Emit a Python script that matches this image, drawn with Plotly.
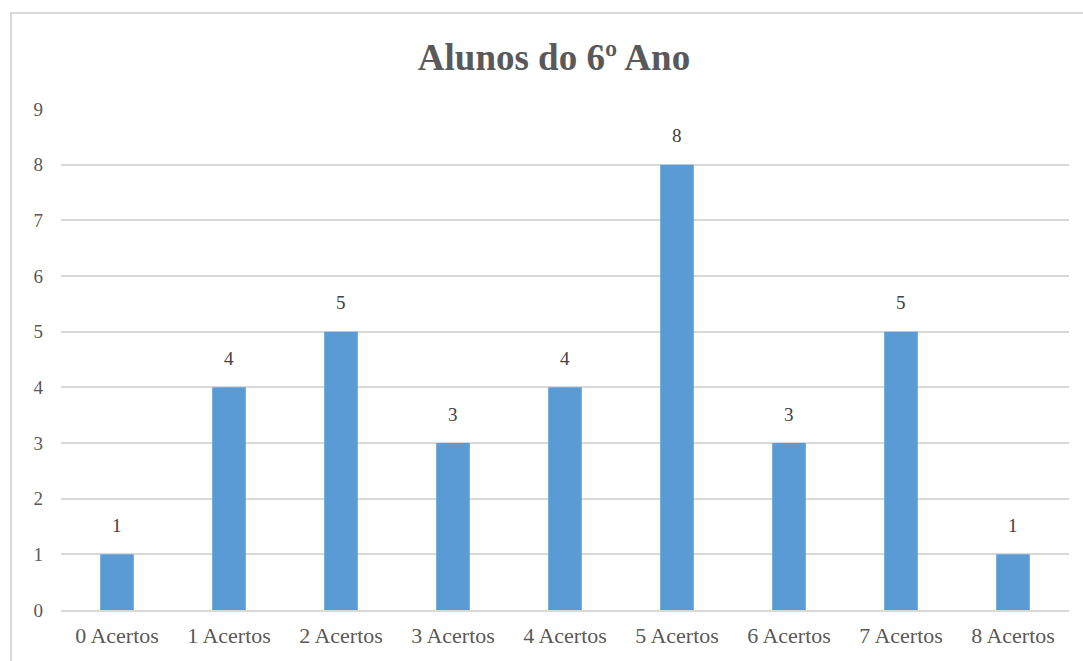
import plotly.graph_objects as go

categories = ["0 Acertos", "1 Acertos", "2 Acertos", "3 Acertos", "4 Acertos",
              "5 Acertos", "6 Acertos", "7 Acertos", "8 Acertos"]
values = [1, 4, 5, 3, 4, 8, 3, 5, 1]
y_ticks = [0, 1, 2, 3, 4, 5, 6, 7, 8, 9]

SERIF = "Liberation Serif, Times New Roman, DejaVu Serif, serif"
W, H = 1083, 661
L, R, T, B = 61, 14, 109, 51
pw, ph = W - L - R, H - T - B

fig = go.Figure(go.Bar(
    x=categories, y=values,
    marker=dict(color="#5B9BD5", line=dict(width=0)),
    width=0.3,
    cliponaxis=False,
))

for c, v in zip(categories, values):
    fig.add_annotation(x=c, y=v, text=str(v), showarrow=False,
                       yanchor="middle", yshift=29,
                       font=dict(family=SERIF, size=19, color="#404040"))

fig.update_layout(
    width=W, height=H,
    margin=dict(l=L, r=R, t=T, b=B),
    paper_bgcolor="white", plot_bgcolor="white",
    showlegend=False,
    title=dict(text="<b>Alunos do 6º Ano</b>", x=(554 - L) / pw, xref="paper",
               xanchor="center", y=1 - 57 / H, yanchor="middle",
               font=dict(family=SERIF, size=37, color="#595959")),
    font=dict(family=SERIF, size=19, color="#595959"),
)
fig.update_xaxes(showgrid=False, showline=True, linecolor="#D9D9D9", linewidth=1.5,
                 ticks="", tickfont=dict(family=SERIF, size=22, color="#595959"),
                 ticklabelstandoff=5)
fig.update_yaxes(range=[0, 9], tickvals=y_ticks, showgrid=True, gridcolor="#D9D9D9",
                 gridwidth=1.5, zeroline=False, showline=False, ticks="",
                 tickfont=dict(family=SERIF, size=19, color="#595959"), ticklabelstandoff=17)

# outer chart border
fig.add_shape(type="rect", xref="paper", yref="paper",
              x0=(11 - L) / pw, x1=(W + 20 - L) / pw,
              y0=-(H + 20 - (T + ph)) / ph, y1=1 + (T - 13) / ph,
              line=dict(color="#D9D9D9", width=2), fillcolor="rgba(0,0,0,0)",
              layer="below")

fig.write_html("out.html")
